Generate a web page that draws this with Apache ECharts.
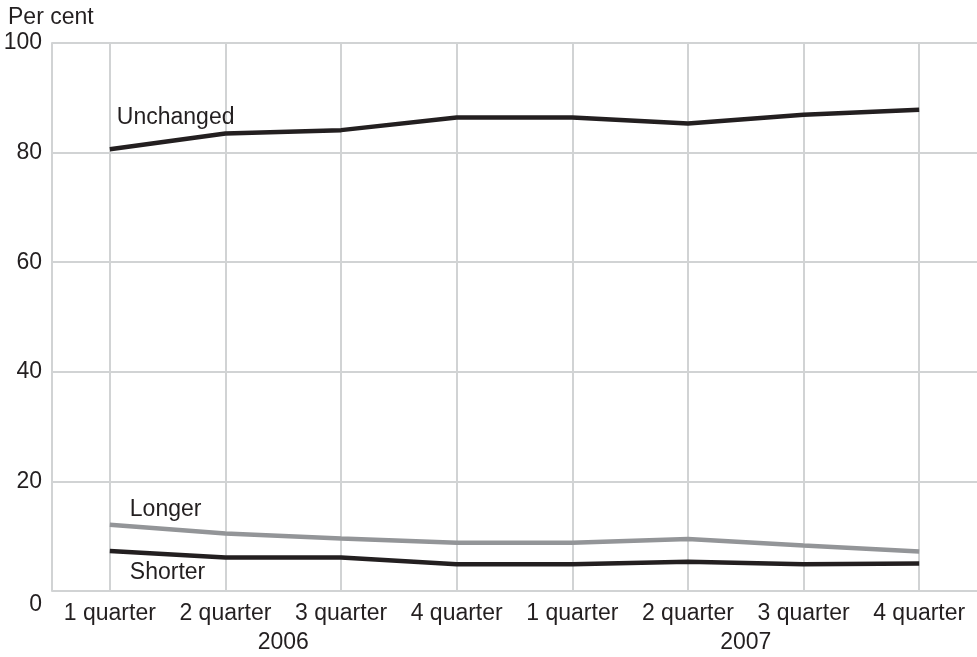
<!DOCTYPE html>
<html>
<head>
<meta charset="utf-8">
<script src="https://cdn.jsdelivr.net/npm/echarts@6/dist/echarts.min.js"></script>
<style>
html,body{margin:0;padding:0;background:#fff;}
#c{width:977px;height:657px;}
</style>
</head>
<body>
<div id="c"></div>
<script>
var categories = ['1 quarter','2 quarter','3 quarter','4 quarter','1 quarter','2 quarter','3 quarter','4 quarter'];
var years = ['2006','2007'];
var unchanged = [80.6, 83.5, 84.1, 86.4, 86.4, 85.3, 86.9, 87.8];
var longer = [12.1, 10.5, 9.6, 8.8, 8.8, 9.5, 8.3, 7.2];
var shorter = [7.3, 6.1, 6.1, 4.9, 4.9, 5.35, 4.9, 5.0];
var yTicks = [0, 20, 40, 60, 80, 100];

var FONT = 'Liberation Sans';
var TXT = '#231f20';
var GRID = '#d1d3d4';

var chart = echarts.init(document.getElementById('c'), null, {renderer:'canvas'});
var option = {
  animation: false,
  backgroundColor: '#fff',
  textStyle: {fontFamily: FONT},
  title: {
    text: 'Per cent', left: 3, top: 1,
    textStyle: {fontFamily: FONT, fontSize: 23, fontWeight: 'normal', color: TXT}
  },
  grid: {left: 52, right: 0, top: 43, bottom: 66, containLabel: false},
  xAxis: [{
    type: 'category',
    data: categories,
    boundaryGap: true,
    axisLine: {show: false},
    axisTick: {show: false},
    axisLabel: {fontFamily: FONT, fontSize: 23, color: TXT, margin: 11, interval: 0},
    splitLine: {show: true, alignWithLabel: true, lineStyle: {color: GRID, width: 2}}
  }, {
    type: 'category',
    data: years,
    position: 'bottom',
    offset: 29,
    boundaryGap: true,
    axisLine: {show: false},
    axisTick: {show: false},
    splitLine: {show: false},
    axisLabel: {fontFamily: FONT, fontSize: 23, color: TXT, margin: 11, interval: 0}
  }],
  yAxis: {
    type: 'value',
    min: yTicks[0], max: yTicks[yTicks.length-1], interval: 20,
    axisLine: {show: true, lineStyle: {color: GRID, width: 2}},
    axisTick: {show: false},
    splitLine: {show: true, lineStyle: {color: GRID, width: 2}},
    axisLabel: {
      fontFamily: FONT, fontSize: 23, color: TXT, margin: 10,
      formatter: function (v) { return v === 0 ? '{z|0}' : String(v); },
      rich: {z: {fontFamily: FONT, fontSize: 23, color: TXT, padding: [28, 0, 0, 0]}}
    }
  },
  series: [
    {name: 'Unchanged', type: 'line', data: unchanged, symbol: 'none', lineStyle: {color: '#231f20', width: 4.5}, z: 3},
    {name: 'Longer', type: 'line', data: longer, symbol: 'none', lineStyle: {color: '#939598', width: 4.5}, z: 2},
    {name: 'Shorter', type: 'line', data: shorter, symbol: 'none', lineStyle: {color: '#231f20', width: 4.5}, z: 3}
  ]
};
chart.setOption(option);

function lbl(text, value, dx, dy) {
  var p = chart.convertToPixel({gridIndex: 0}, [0, value]);
  return {type: 'text', x: p[0] + dx, y: p[1] + dy,
    style: {text: text, fontFamily: FONT, fontSize: 23, fill: TXT, textAlign: 'left', textVerticalAlign: 'middle'}};
}
chart.setOption({graphic: [
  lbl('Unchanged', unchanged[0], 7, -32),
  lbl('Longer', longer[0], 20, -15),
  lbl('Shorter', shorter[0], 20, 22)
]});
</script>
</body>
</html>
